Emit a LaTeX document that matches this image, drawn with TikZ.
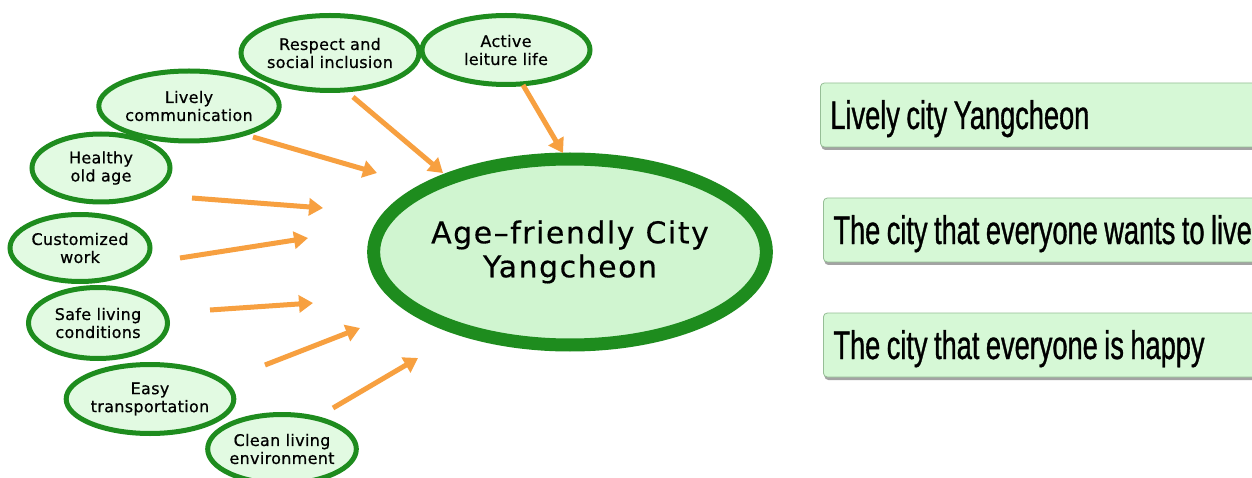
\documentclass[tikz,border=0pt]{standalone}
\usepackage{fontspec}
\usetikzlibrary{shapes.geometric,arrows.meta,shadows}
\newfontfamily\ellfont[LetterSpace=2,FakeBold=0.6]{DejaVu Sans}
\newfontfamily\cityfont[LetterSpace=5,FakeBold=0.4]{DejaVu Sans}
\newfontfamily\boxfont[FakeStretch=0.68,FakeBold=0.8]{Liberation Sans}
\newcommand\tightwords{\spaceskip=6.5pt plus 1pt minus 1pt\xspaceskip=6.5pt\relax}
\definecolor{ellgreen}{RGB}{30,140,30}
\definecolor{ellfill}{RGB}{226,250,226}
\definecolor{cityfill}{RGB}{208,245,208}
\definecolor{arrorange}{RGB}{247,160,64}
\definecolor{boxfill}{RGB}{214,248,214}
\definecolor{boxedge}{RGB}{150,190,150}
\tikzset{
  small/.style={ellipse, draw=ellgreen, fill=ellfill, line width=5pt, inner sep=0pt,
    align=center, font=\ellfont\fontsize{16}{18}\selectfont},
  city/.style={ellipse, draw=ellgreen, fill=cityfill, line width=13pt, inner sep=0pt,
    align=center, font=\cityfont\fontsize{30}{34}\selectfont},
  feed/.style={draw=arrorange, line width=5pt, -{Triangle[length=14pt,width=17pt]}},
  rbox/.style={rectangle, rounded corners=4pt, draw=boxedge, line width=0.8pt, fill=boxfill,
    minimum height=64pt, text width=600pt, inner xsep=10pt,
    text height=28pt, text depth=0pt,
    font=\boxfont\fontsize{40}{40}\selectfont,
    drop shadow={shadow xshift=1pt, shadow yshift=-3pt, fill=black!45, opacity=0.8}}
}
\begin{document}
\begin{tikzpicture}[x=1pt,y=-1pt]
\clip (0,0) rectangle (1252,478);
\fill[white] (0,0) rectangle (1252,478);
% centre
\node[city, minimum width=390pt, minimum height=186pt] (c) at (570,252)
  {Age–friendly City\\Yangcheon};
% surrounding ellipses
\node[small, minimum width=155pt, minimum height=75pt] (resp) at (330,53) {Respect and\\social inclusion};
\node[small, minimum width=168pt, minimum height=69pt] (act) at (506,50) {Active\\leiture life};
\node[small, minimum width=149pt, minimum height=70pt] (liv) at (189,106) {Lively\\communication};
\node[small, minimum width=138pt, minimum height=68pt] (hea) at (101,168) {Healthy\\old age};
\node[small, minimum width=140pt, minimum height=67pt] (cus) at (80,248) {Customized\\work};
\node[small, minimum width=139pt, minimum height=71pt] (saf) at (98,323) {Safe living\\conditions};
\node[small, minimum width=140pt, minimum height=69pt] (eas) at (150,399) {Easy\\transportation};
\node[small, minimum width=139pt, minimum height=69pt] (cle) at (282,449) {Clean living\\environment};
% arrow endpoints
\coordinate (resp-s) at (353,97);  \coordinate (resp-e) at (443,173);
\coordinate (act-s) at (523,85);   \coordinate (act-e) at (563,153);
\coordinate (liv-s) at (253,137);  \coordinate (liv-e) at (377,173);
\coordinate (hea-s) at (192,198);  \coordinate (hea-e) at (323,208);
\coordinate (cus-s) at (180,258);  \coordinate (cus-e) at (308,238);
\coordinate (saf-s) at (210,310);  \coordinate (saf-e) at (313,303);
\coordinate (eas-s) at (265,365);  \coordinate (eas-e) at (360,328);
\coordinate (cle-s) at (333,408);  \coordinate (cle-e) at (418,358);
\foreach \n in {resp,act,liv,hea,cus,saf,eas,cle}
  \draw[feed] (\n-s) -- (\n-e);
% right boxes
\node[rbox, anchor=west] (b1) at (820,115) {\tightwords Lively city Yangcheon};
\node[rbox, anchor=west] (b2) at (823,230) {\tightwords The city that everyone wants to live};
\node[rbox, anchor=west] (b3) at (823,345) {\tightwords The city that everyone is happy};
\end{tikzpicture}
\end{document}
